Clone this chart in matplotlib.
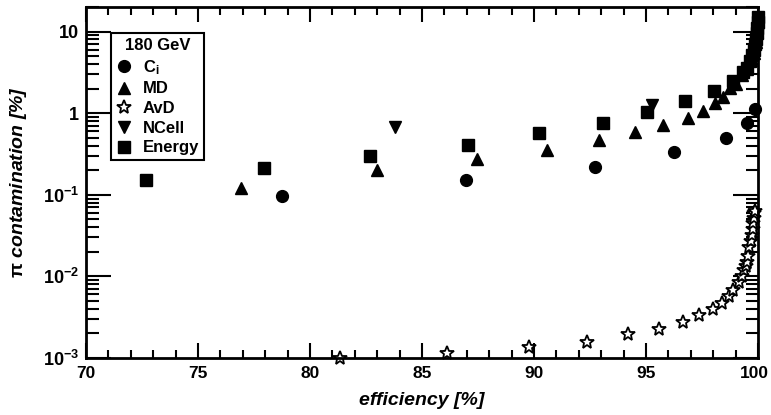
import matplotlib
matplotlib.use("Agg")
import matplotlib.pyplot as plt
import matplotlib.transforms as mtransforms
from matplotlib.ticker import FixedLocator, LogLocator, NullFormatter, FixedFormatter

plt.rcParams['font.family'] = ['Liberation Sans', 'DejaVu Sans']
plt.rcParams['font.weight'] = 'bold'
plt.rcParams['mathtext.fontset'] = 'custom'
plt.rcParams['mathtext.rm'] = 'Liberation Sans:bold'
plt.rcParams['mathtext.bf'] = 'Liberation Sans:bold'
plt.rcParams['mathtext.it'] = 'Liberation Sans:bold:italic'
plt.rcParams['mathtext.default'] = 'rm'

# ---- data ----
ci_eff = [78.75, 86.96, 92.72, 96.25, 98.57, 99.51, 99.87]
ci_val = [0.097, 0.153, 0.221, 0.337, 0.50, 0.764, 1.14]

md_eff = [76.92, 82.99, 87.46, 90.58, 92.90, 94.51, 95.76, 96.88, 97.54, 98.08,
          98.44, 98.75, 99.0, 99.3, 99.5, 99.7, 99.8, 99.9, 99.95, 99.98]
md_val = [0.122, 0.203, 0.277, 0.357, 0.473, 0.593, 0.723, 0.88, 1.07, 1.35,
          1.59, 2.06, 2.3, 2.9, 3.5, 4.5, 5.5, 7.5, 10.0, 13.0]

avd_eff = [81.34, 86.12, 89.78, 92.37, 94.20, 95.58, 96.65, 97.37, 98.00, 98.39,
           98.70, 98.88, 99.15, 99.30, 99.38, 99.45, 99.51, 99.55, 99.60, 99.67,
           99.73, 99.76, 99.78, 99.80, 99.82, 99.85]
avd_val = [1.0e-3, 1.15e-3, 1.36e-3, 1.57e-3, 1.97e-3, 2.27e-3, 2.77e-3, 3.37e-3, 4.0e-3, 4.73e-3,
           5.8e-3, 6.8e-3, 8.6e-3, 1.0e-2, 1.2e-2, 1.35e-2, 1.5e-2, 1.8e-2, 2.3e-2, 2.7e-2,
           3.2e-2, 3.8e-2, 4.5e-2, 5.2e-2, 6.0e-2, 6.3e-2]

ncell_eff = [83.79, 95.27]
ncell_val = [0.683, 1.27]

en_eff = [72.68, 77.95, 82.68, 87.05, 90.22, 93.08, 95.04, 96.74, 98.04, 98.88,
          99.33, 99.5, 99.65, 99.75, 99.82, 99.87, 99.91, 99.94, 99.96, 99.98, 99.99]
en_val = [0.153, 0.214, 0.30, 0.41, 0.577, 0.764, 1.04, 1.42, 1.89, 2.5,
          3.23, 3.6, 4.3, 5.1, 6.0, 7.0, 8.2, 9.5, 11.0, 13.0, 15.0]

xticks = [70, 75, 80, 85, 90, 95, 100]
yticks = [1e-3, 1e-2, 1e-1, 1, 10]
ytick_labels = [r'$10^{-3}$', r'$10^{-2}$', r'$10^{-1}$', '1', '10']

fig = plt.figure(figsize=(7.71, 4.15), dpi=100)
ax = fig.add_axes([86/771, 1 - 358/415, (758 - 86)/771, (358 - 7)/415])

ms = 8.5
ax.plot(ci_eff, ci_val, 'o', color='black', ms=ms, label=r'$\mathrm{C_i}$', clip_on=False)
ax.plot(md_eff, md_val, '^', color='black', ms=ms, label='MD', clip_on=False)
ax.plot(avd_eff, avd_val, '*', mfc='white', mec='black', mew=1.3, ms=10, label='AvD', clip_on=False)
ax.plot(ncell_eff, ncell_val, 'v', color='black', ms=ms, label='NCell', clip_on=False)
ax.plot(en_eff, en_val, 's', color='black', ms=ms, label='Energy', clip_on=False)

ax.set_yscale('log')
ax.set_xlim(70, 100)
ax.set_ylim(1e-3, 20)

ax.xaxis.set_major_locator(FixedLocator(xticks))
ax.xaxis.set_minor_locator(FixedLocator(list(range(70, 101))))
ax.yaxis.set_major_locator(FixedLocator(yticks))
ax.yaxis.set_major_formatter(FixedFormatter(ytick_labels))
ax.yaxis.set_minor_locator(LogLocator(base=10, subs=range(2, 10), numticks=20))
ax.yaxis.set_minor_formatter(NullFormatter())

ax.tick_params(axis='both', which='both', direction='in', top=True, right=True, width=1.5)
ax.tick_params(axis='x', labelsize=12.5)
ax.tick_params(axis='y', labelsize=13)
ax.tick_params(axis='x', which='major', length=11, pad=6)
ax.tick_params(axis='x', which='minor', length=6)
ax.tick_params(axis='y', which='major', length=18, pad=5)
ax.tick_params(axis='y', which='minor', length=9)
for lab in ax.get_xticklabels() + ax.get_yticklabels():
    lab.set_fontweight('bold')
for s in ax.spines.values():
    s.set_linewidth(2)

# keep the last x label inside the canvas
last = ax.get_xticklabels()[-1]
last.set_transform(last.get_transform() + mtransforms.ScaledTranslation(-4/100, 0, fig.dpi_scale_trans))

ax.set_xlabel('efficiency [%]', fontsize=14, fontweight='bold', style='italic', labelpad=8)
ax.set_ylabel(r'$\pi$ contamination [%]', fontsize=14, fontweight='bold', style='italic', labelpad=10)

leg = ax.legend(loc='upper left', bbox_to_anchor=(0.037, 0.925), borderaxespad=0,
                title='180 GeV', fancybox=False, edgecolor='black', framealpha=1, fontsize=12,
                handletextpad=0.6, handlelength=1.0, borderpad=0.3, labelspacing=0.28)
leg.get_frame().set_linewidth(1.5)
leg.get_title().set_fontweight('bold')
leg.get_title().set_fontsize(12)
for t in leg.get_texts():
    t.set_fontweight('bold')

fig.savefig('out.png', dpi=100)
